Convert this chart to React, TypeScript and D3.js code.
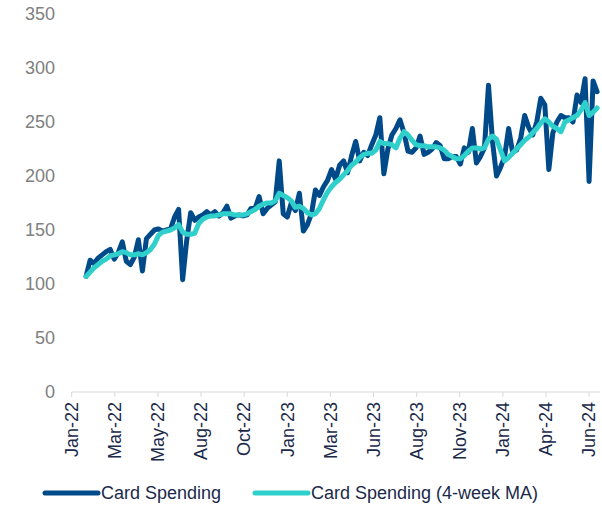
import * as d3 from "d3";
import { useEffect, useRef } from "react";

// weekly card spending index
const spending = [
  107, 122, 119, 124, 127, 130, 132, 123, 129, 139,
  121, 118, 125, 141, 112, 142, 146, 150, 151, 149,
  150, 151, 162, 169, 104, 140, 166, 159, 162, 164,
  167, 164, 167, 163, 166, 172, 161, 163, 164, 163,
  164, 170, 170, 181, 165, 170, 173, 176, 214, 165,
  162, 175, 168, 184, 149, 155, 165, 187, 182, 190,
  196, 206, 197, 210, 214, 203, 219, 232, 214, 222,
  219, 229, 238, 254, 202, 225, 238, 244, 252, 240,
  223, 222, 226, 237, 220, 222, 225, 231, 228, 216,
  216, 218, 218, 211, 226, 222, 244, 212, 218, 226,
  284, 232, 200, 208, 218, 244, 222, 224, 235, 256,
  245, 238, 250, 272, 266, 206, 240, 250, 256, 254,
  254, 250, 275, 268, 290, 195, 288, 278,
];
const spendingMA = [
  107, 111, 115, 118, 121, 123, 126, 127, 128, 130,
  129, 127, 127, 128, 127, 129, 132, 137, 145, 148,
  149, 150, 152, 155, 148, 146, 146, 147, 156, 160,
  162, 163, 163, 164, 165, 165, 165, 164, 164, 164,
  165, 167, 169, 172, 174, 175, 175, 177, 184, 182,
  180, 177, 171, 172, 170, 166, 164, 165, 170, 178,
  185, 190, 194, 197, 201, 205, 210, 213, 217, 220,
  221, 221, 224, 232, 230, 230, 229, 226, 235, 241,
  238, 233, 229, 228, 228, 227, 227, 227, 226, 224,
  220, 218, 216, 216, 219, 223, 226, 226, 225, 226,
  234, 237, 234, 224, 214, 217, 221, 225, 229, 233,
  236, 240, 244, 249, 253, 250, 246, 244, 241, 250,
  252, 254, 256, 261, 268, 256, 259, 263,
];
const yTicks = [0, 50, 100, 150, 200, 250, 300, 350];
const seriesNames = ["Card Spending", "Card Spending (4-week MA)"];

const axisStart = new Date(2022, 0, 1);
const firstWeek = d3.timeDay.offset(axisStart, 25);
const dates = spending.map((_, i) => d3.timeDay.offset(firstWeek, 7 * i));
// date ticks every 75 days
const xTicks = d3.range(13).map((k) => d3.timeDay.offset(axisStart, 75 * k));

function drawChart(container: HTMLElement) {
  const width = 602;
  const height = 505;
  const left = 71.7;
  const right = 600;
  const top = 14;
  const bottom = 392;

  const svg = d3.select(container)
    .append("svg")
    .attr("width", width)
    .attr("height", height)
    .attr("style", "position:absolute;left:0;top:0;font-family:'Liberation Sans',Arial,sans-serif");

  const x = d3.scaleTime([axisStart, d3.timeDay.offset(axisStart, 919)], [left, right]);
  const y = d3.scaleLinear([0, 350], [bottom, top]);

  // y labels
  svg.append("g")
    .selectAll("text")
    .data(yTicks)
    .join("text")
    .attr("x", 55)
    .attr("y", (d) => y(d))
    .attr("dy", "0.35em")
    .attr("text-anchor", "end")
    .attr("font-size", 18)
    .attr("fill", "#808080")
    .text((d) => d);

  // x axis
  const gx = svg.append("g").attr("transform", `translate(0,${bottom})`);
  gx.append("line")
    .attr("x1", left).attr("x2", right)
    .attr("stroke", "#d9d9d9").attr("stroke-width", 1);
  gx.selectAll("line.tick")
    .data(xTicks)
    .join("line")
    .attr("class", "tick")
    .attr("x1", (d) => x(d)).attr("x2", (d) => x(d))
    .attr("y1", 0).attr("y2", 5)
    .attr("stroke", "#d9d9d9");
  const fmt = d3.timeFormat("%b-%y");
  gx.selectAll("text")
    .data(xTicks)
    .join("text")
    .attr("transform", (d) => `translate(${x(d)},10) rotate(-90)`)
    .attr("dy", "0.35em")
    .attr("text-anchor", "end")
    .attr("font-size", 18)
    .attr("fill", "#1b2a4a")
    .text((d) => fmt(d));

  const line = d3.line<number>()
    .x((_, i) => x(dates[i]))
    .y((d) => y(d));

  svg.append("path")
    .datum(spending)
    .attr("d", line)
    .attr("fill", "none")
    .attr("stroke", "#004a8a")
    .attr("stroke-width", 5)
    .attr("stroke-linejoin", "round")
    .attr("stroke-linecap", "round");

  svg.append("path")
    .datum(spendingMA)
    .attr("d", line)
    .attr("fill", "none")
    .attr("stroke", "#2fcfcb")
    .attr("stroke-width", 5)
    .attr("stroke-linejoin", "round")
    .attr("stroke-linecap", "round");

  // legend
  const colors = ["#004a8a", "#2fcfcb"];
  const legendX = [45, 255];
  const lg = svg.append("g").attr("transform", "translate(0,493)");
  seriesNames.forEach((name, i) => {
    lg.append("line")
      .attr("x1", legendX[i]).attr("x2", legendX[i] + 53)
      .attr("stroke", colors[i]).attr("stroke-width", 5)
      .attr("stroke-linecap", "round");
    lg.append("text")
      .attr("x", legendX[i] + 56)
      .attr("dy", "0.35em")
      .attr("font-size", 18)
      .attr("fill", "#1b2a4a")
      .text(name);
  });
}

export default function App() {
  const domRef = useRef<HTMLDivElement>(null);
  useEffect(() => {
    if (domRef.current) {
      drawChart(domRef.current);
    }
    return () => {
      if (domRef.current) {
        d3.select(domRef.current).selectAll("svg").remove();
      }
    };
  }, [domRef]);
  return <div ref={domRef}></div>;
}
